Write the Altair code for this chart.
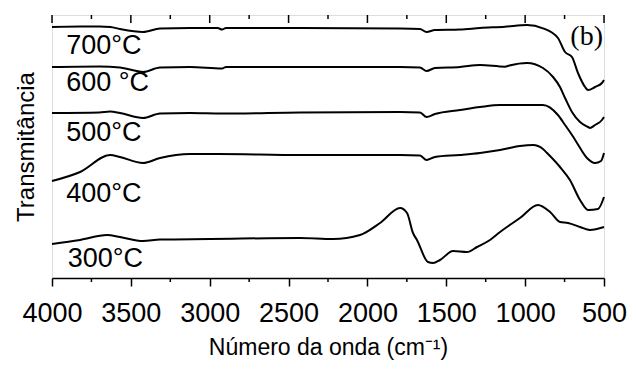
import altair as alt
import pandas as pd

# ---- data (wavenumber cm-1, transmittance in arbitrary offset units) ----
wn_700 = [4000, 3820, 3700, 3630, 3570, 3423, 3315, 3125, 2950, 2922, 2897, 2428, 1793, 1667, 1625, 1572,
          1413, 1286, 1128, 988, 887, 792, 747, 703, 665, 620, 601, 557, 513, 500]
t_700 = [251, 251.5, 251.5, 251, 249, 246, 249.5, 250, 250, 248.5, 250, 250, 249.5, 249, 246, 248,
         248.5, 250, 251.3, 253, 249.7, 240, 226, 221, 205, 191, 188, 191, 195, 198]

wn_600 = [4000, 3700, 3569, 3505, 3423, 3315, 3125, 2922, 2897, 2428, 1793, 1667, 1625, 1572, 1413,
          1286, 1128, 1100, 988, 887, 823, 779, 747, 703, 652, 601, 589, 557, 513, 500]
t_600 = [211, 211.5, 210.5, 208.5, 206, 210.5, 211, 209.5, 211, 211, 211, 210.5, 207, 210, 211,
         213, 211.3, 212.5, 215, 210, 201, 191, 180, 166, 156, 151, 150, 153, 158, 161]

wn_500 = [4000, 3700, 3632, 3569, 3423, 3315, 3125, 2922, 2428, 1793, 1667, 1625, 1572, 1413, 1286,
          1159, 906, 887, 792, 747, 703, 671, 608, 557, 519, 500]
t_500 = [165, 165.5, 166.5, 165, 160, 164.5, 165, 164.5, 165.5, 166, 165.5, 161, 164, 168, 171,
         173, 173, 173, 163, 153, 143, 135, 120, 115, 117, 125]

wn_400 = [4000, 3822, 3632, 3569, 3423, 3315, 3125, 2947, 2428, 1793, 1667, 1625, 1572, 1413, 1286,
          1159, 1033, 950, 887, 861, 779, 716, 652, 601, 538, 500]
t_400 = [97, 106, 123, 121, 115, 120, 124, 124, 123, 123, 122.5, 118, 121, 123, 125,
         128, 132, 133, 129, 125, 111, 98, 78, 68, 69, 81]

wn_300 = [4000, 3822, 3651, 3569, 3423, 3315, 3000, 2428, 2218, 2047, 1920, 1793, 1749, 1711, 1686,
          1616, 1584, 1540, 1457, 1369, 1305, 1223, 1159, 1033, 919, 842, 779, 728, 652, 589, 500]
t_300 = [34, 38, 43, 41, 37, 38.5, 39, 40, 39, 43, 55, 70, 65, 45, 38,
         16, 15, 18, 27, 26, 31, 38, 46, 60, 73, 66, 56, 55, 51, 48, 51]

series_names = ["700°C", "600 °C", "500°C", "400°C", "300°C"]
series_wn = [wn_700, wn_600, wn_500, wn_400, wn_300]
series_t = [t_700, t_600, t_500, t_400, t_300]

major_ticks = [4000, 3500, 3000, 2500, 2000, 1500, 1000, 500]
minor_ticks = [3750, 3250, 2750, 2250, 1750, 1250, 750]

# label anchor values (baseline of each temperature label)
label_wn = [3910, 3910, 3910, 3910, 3900]
label_t = [224, 187, 137, 76, 11]

rows = []
for name, ws, ts in zip(series_names, series_wn, series_t):
    for i, (w, t) in enumerate(zip(ws, ts)):
        rows.append({"serie": name, "wn": w, "t": t, "order": i})
df = pd.DataFrame(rows)
df_lab = pd.DataFrame({"text": series_names, "wn": label_wn, "t": label_t})
df_major = pd.DataFrame({"wn": major_ticks})
df_minor = pd.DataFrame({"wn": minor_ticks})

W, H = 552, 263
FONT = "Liberation Sans"

xscale = alt.Scale(domain=[500, 4000], reverse=True, nice=False, zero=False)
yscale = alt.Scale(domain=[0, 263], nice=False, zero=False)

xaxis = alt.Axis(values=major_ticks, format="d", tickSize=8, tickWidth=1.5, tickColor="black",
                 domainColor="black", domainWidth=1.5, labelFont=FONT, labelFontSize=27,
                 labelColor="black", labelPadding=14, grid=False, title="Número da onda (cm⁻¹)",
                 titleFont=FONT, titleFontSize=23, titleFontWeight="normal", titleColor="black",
                 titlePadding=10, labelFlush=False, labelOverlap=False)
yaxis = alt.Axis(ticks=False, labels=False, domain=False, grid=False, title="Transmitância",
                 titleFont=FONT, titleFontSize=24, titleFontWeight="normal", titleColor="black",
                 titlePadding=14)

lines = alt.Chart(df).mark_line(color="black", strokeWidth=2, interpolate="monotone").encode(
    x=alt.X("wn:Q", scale=xscale, axis=xaxis),
    y=alt.Y("t:Q", scale=yscale, axis=yaxis),
    detail="serie:N",
    order="order:Q",
)

labels = alt.Chart(df_lab).mark_text(align="left", baseline="alphabetic", font=FONT,
                                     fontSize=27, color="black").encode(
    x=alt.X("wn:Q", scale=xscale), y=alt.Y("t:Q", scale=yscale), text="text:N")

top_major = alt.Chart(df_major).mark_rule(color="black", strokeWidth=1.5).encode(
    x=alt.X("wn:Q", scale=xscale), y=alt.value(0), y2=alt.value(8))
top_minor = alt.Chart(df_minor).mark_rule(color="black", strokeWidth=1.5).encode(
    x=alt.X("wn:Q", scale=xscale), y=alt.value(0), y2=alt.value(4))
bot_minor = alt.Chart(df_minor).mark_rule(color="black", strokeWidth=1.5).encode(
    x=alt.X("wn:Q", scale=xscale), y=alt.value(H), y2=alt.value(H + 4))

panel_b = alt.Chart(pd.DataFrame({"t": ["(b)"]})).mark_text(
    align="right", baseline="alphabetic", font="Liberation Serif", fontSize=28, color="black"
).encode(x=alt.value(W - 1), y=alt.value(30), text="t:N")

chart = alt.layer(lines, labels, top_major, top_minor, bot_minor, panel_b).properties(
    width=W, height=H,
    autosize=alt.AutoSizeParams(type="none"),
    padding={"left": 44, "top": 7, "right": 24, "bottom": 84},
).configure_view(stroke="black", strokeWidth=1.5).configure(background="white")

chart.save("out.html", embed_options={"renderer": "svg", "actions": False})
